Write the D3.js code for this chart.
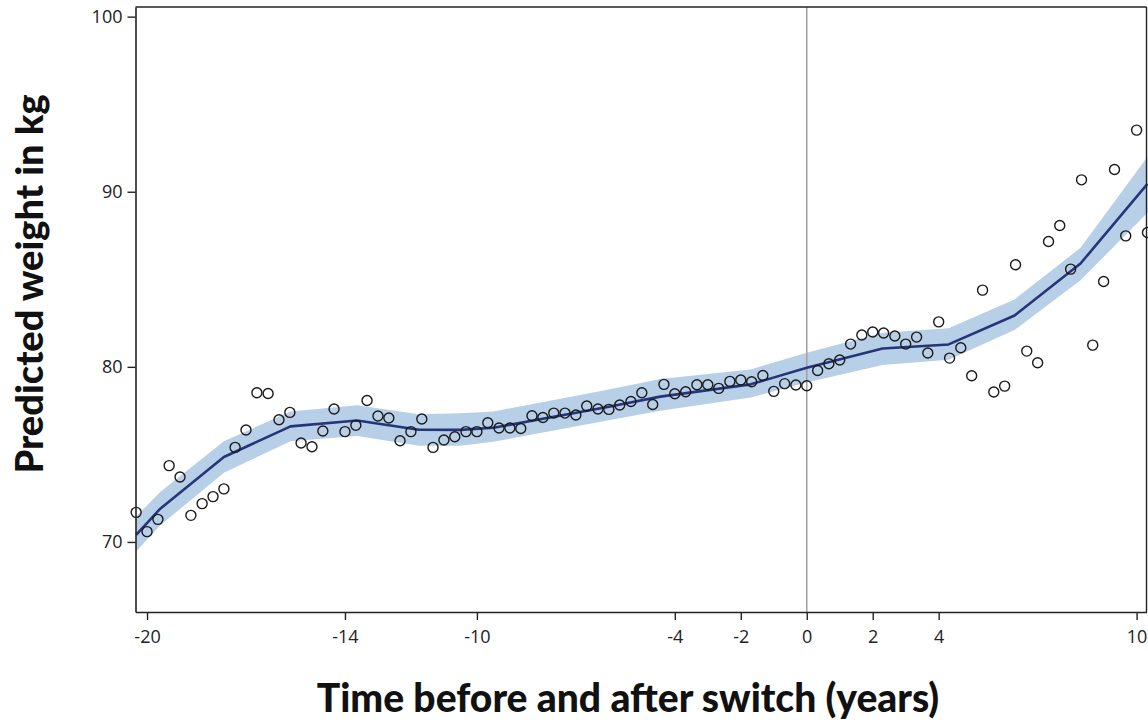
<!DOCTYPE html>
<html>
<head>
<meta charset="utf-8">
<script src="https://cdn.jsdelivr.net/npm/d3@7/dist/d3.min.js"></script>
<style>
  html, body { margin: 0; padding: 0; background: #fff; }
  svg { display: block; }
  .tick text { font-family: "Open Sans", "DejaVu Sans", sans-serif; font-size: 18px; fill: #222; }
  .title { font-family: Lato, "Open Sans", sans-serif; font-weight: 900; fill: #111; }
</style>
</head>
<body>
<svg id="chart" width="1148" height="722"></svg>
<script>
// Observed (circles): time in years relative to switch, predicted weight in kg
const obsTime = [-20.33,-20.00,-19.67,-19.33,-19.00,-18.67,-18.33,-18.00,-17.67,-17.33,
  -17.00,-16.67,-16.33,-16.00,-15.67,-15.33,-15.00,-14.67,-14.33,-14.00,
  -13.67,-13.33,-13.00,-12.67,-12.33,-12.00,-11.67,-11.33,-11.00,-10.67,
  -10.33,-10.00,-9.67,-9.33,-9.00,-8.67,-8.33,-8.00,-7.67,-7.33,
  -7.00,-6.67,-6.33,-6.00,-5.67,-5.33,-5.00,-4.67,-4.33,-4.00,
  -3.67,-3.33,-3.00,-2.67,-2.33,-2.00,-1.67,-1.33,-1.00,-0.67,
  -0.33,0.00,0.33,0.67,1.00,1.33,1.67,2.00,2.33,2.67,
  3.00,3.33,3.67,4.00,4.33,4.67,5.00,5.33,5.67,6.00,
  6.33,6.67,7.00,7.33,7.67,8.00,8.33,8.67,9.00,9.33,
  9.67,10.00,10.33];
const obsWeight = [71.69,70.59,71.29,74.36,73.71,71.52,72.19,72.59,73.03,75.40,
  76.39,78.52,78.48,76.98,77.40,75.65,75.44,76.34,77.59,76.30,
  76.66,78.08,77.19,77.08,75.78,76.30,77.02,75.40,75.82,76.01,
  76.30,76.30,76.81,76.51,76.51,76.48,77.21,77.11,77.36,77.36,
  77.25,77.76,77.59,77.57,77.82,78.02,78.52,77.85,79.00,78.46,
  78.58,78.98,78.98,78.77,79.17,79.25,79.15,79.51,78.60,79.04,
  78.96,78.92,79.79,80.18,80.39,81.30,81.82,81.99,81.93,81.76,
  81.30,81.70,80.79,82.57,80.50,81.09,79.49,84.38,78.56,78.90,
  85.83,80.90,80.23,87.16,88.07,85.58,90.68,81.24,84.87,91.27,
  87.48,93.52,87.67];

// Fitted line and confidence band
const fitTime  = [-20.33,-19.6,-17.67,-15.65,-13.63,-11.76,-10.5,-9.5,-6.0,-4.44,-1.7,0,2.3,4.3,6.3,8.3,10.33];
const fitValue = [70.40,71.90,74.85,76.60,76.94,76.41,76.40,76.52,77.72,78.30,79.00,79.95,81.05,81.28,82.93,85.90,90.45];
const fitLower = [69.45,70.95,73.95,75.75,76.05,75.50,75.50,75.72,76.95,77.50,78.25,79.10,80.10,80.40,82.10,84.95,88.80];
const fitUpper = [71.45,72.85,75.75,77.45,77.80,77.30,77.35,77.45,78.70,79.30,79.85,80.80,81.95,82.20,83.85,86.80,92.00];

const xTicks = [-20,-14,-10,-4,-2,0,2,4,10];
const yTicks = [70,80,90,100];
const refLine = 0;

const L = 135.5, R = 1146.5, T = 7, B = 612;
const svg = d3.select("#chart");
const x = d3.scaleLinear().domain([-20.35, 10.30]).range([L, R]);
const y = d3.scaleLinear().domain([66.0, 100.55]).range([B, T]);

const fit = fitTime.map((t, i) => ({t, v: fitValue[i], lo: fitLower[i], hi: fitUpper[i]}));
const obs = obsTime.map((t, i) => ({t, v: obsWeight[i]}));

// band
svg.append("path")
  .datum(fit)
  .attr("fill", "#b8cfe8")
  .attr("d", d3.area().x(d => x(d.t)).y0(d => y(d.lo)).y1(d => y(d.hi)));

// reference line at switch
svg.append("line")
  .attr("x1", x(refLine)).attr("x2", x(refLine))
  .attr("y1", T).attr("y2", B)
  .attr("stroke", "#a0a0a0").attr("stroke-width", 1.5);

// fitted line
svg.append("path")
  .datum(fit)
  .attr("fill", "none")
  .attr("stroke", "#24357a")
  .attr("stroke-width", 2.6)
  .attr("stroke-linejoin", "round")
  .attr("d", d3.line().x(d => x(d.t)).y(d => y(d.v)));

// observed circles
svg.append("g").selectAll("circle")
  .data(obs).join("circle")
  .attr("cx", d => x(d.t)).attr("cy", d => y(d.v))
  .attr("r", 5)
  .attr("fill", "none")
  .attr("stroke", "#1a1a1a")
  .attr("stroke-width", 1.4);

// frame (top and right)
svg.append("line").attr("x1", L).attr("x2", R).attr("y1", T).attr("y2", T)
  .attr("stroke", "#222").attr("stroke-width", 1.4);
svg.append("line").attr("x1", R).attr("x2", R).attr("y1", T).attr("y2", B)
  .attr("stroke", "#222").attr("stroke-width", 1.4);

// axes
const xAxis = svg.append("g").attr("transform", `translate(0,${B})`)
  .call(d3.axisBottom(x).tickValues(xTicks).tickSize(8).tickPadding(10).tickSizeOuter(0).tickFormat(d3.format("d")));
const yAxis = svg.append("g").attr("transform", `translate(${L},0)`)
  .call(d3.axisLeft(y).tickValues(yTicks).tickSize(8).tickPadding(5).tickSizeOuter(0).tickFormat(d3.format("d")));
[xAxis, yAxis].forEach(a => {
  a.select(".domain").attr("stroke", "#222").attr("stroke-width", 1.6);
  a.selectAll(".tick line").attr("stroke", "#222").attr("stroke-width", 1.4);
});
xAxis.selectAll(".tick text").text(d => d < 0 ? "-" + Math.abs(d) : d);

// titles
svg.append("text").attr("class", "title")
  .attr("x", 628).attr("y", 712)
  .attr("text-anchor", "middle")
  .style("font-size", "39px")
  .text("Time before and after switch (years)");
svg.append("text").attr("class", "title")
  .attr("transform", "translate(43,284) rotate(-90)")
  .attr("text-anchor", "middle")
  .style("font-size", "38px")
  .text("Predicted weight in kg");
</script>
</body>
</html>
